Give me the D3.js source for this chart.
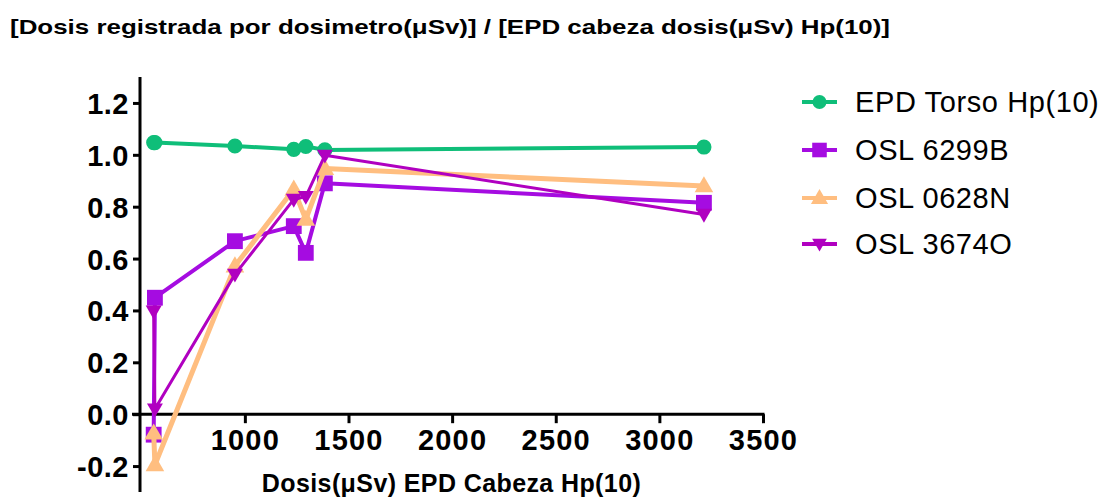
<!DOCTYPE html>
<html><head><meta charset="utf-8">
<script src="https://cdn.jsdelivr.net/npm/d3@7"></script>
<style>
html,body{margin:0;padding:0;background:#fff;}
text{font-family:"Liberation Sans",Arial,sans-serif;}
</style></head>
<body>
<svg id="chart" width="1104" height="498"></svg>
<script>
const titleText = "[Dosis registrada por dosimetro(\u03bcSv)] / [EPD cabeza dosis(\u03bcSv) Hp(10)]";
const xTitle = "Dosis(\u03bcSv) EPD Cabeza Hp(10)";
const doses = [560, 566, 952, 1236, 1294, 1386, 3215];
const seriesNames = ["EPD Torso Hp(10)", "OSL 6299B", "OSL 0628N", "OSL 3674O"];
const torso = [1.047, 1.047, 1.034, 1.021, 1.032, 1.019, 1.030];
const osl6299B = [-0.079, 0.449, 0.667, 0.725, 0.622, 0.890, 0.815];
const osl0628N = [-0.073, -0.195, 0.571, 0.867, 0.751, 0.947, 0.880];
const osl3674O = [0.397, 0.020, 0.539, 0.828, 0.839, 0.998, 0.770];
const xTicks = [1000, 1500, 2000, 2500, 3000, 3500];
const xTickLabels = ["1000", "1500", "2000", "2500", "3000", "3500"];
const yTicks = [-0.2, 0.0, 0.2, 0.4, 0.6, 0.8, 1.0, 1.2];
const yTickLabels = ["-0.2", "0.0", "0.2", "0.4", "0.6", "0.8", "1.0", "1.2"];

const svg = d3.select("#chart");
const x = d3.scaleLinear().domain([494, 3500]).range([140, 763]);
const y = d3.scaleLinear().domain([-0.3, 1.3]).range([492, 77]);

const styles = [
  {color: "#0FBE79", width: 4, symbol: d3.symbolCircle, size: 180, rot: 0},
  {color: "#A50CE1", width: 4, symbol: d3.symbolSquare, size: 250, rot: 0},
  {color: "#FFBE80", width: 5, symbol: d3.symbolTriangle, size: 150, rot: 0},
  {color: "#B000C0", width: 3, symbol: d3.symbolTriangle, size: 110, rot: 180}
];
const allSeries = [torso, osl6299B, osl0628N, osl3674O];

// title
svg.append("text").attr("x", 10).attr("y", 34)
  .attr("font-size", 21).attr("font-weight", "bold")
  .attr("textLength", 880).attr("lengthAdjust", "spacingAndGlyphs")
  .text(titleText);

// axes
const yAxis = d3.axisLeft(y).tickValues(yTicks).tickSize(7).tickSizeOuter(0)
  .tickFormat((d, i) => yTickLabels[i]).tickPadding(4);
const gy = svg.append("g").attr("transform", `translate(${x.range()[0]},0)`).call(yAxis);
gy.select(".domain").remove();
gy.selectAll(".tick line").attr("stroke", "#000").attr("stroke-width", 3);
gy.selectAll(".tick text").attr("font-size", 29).attr("font-weight", "bold").attr("fill", "#000")
  .attr("letter-spacing", 0.5).attr("dy", "0.36em");
svg.append("line").attr("x1", x.range()[0]).attr("x2", x.range()[0])
  .attr("y1", y.range()[1]).attr("y2", y.range()[0])
  .attr("stroke", "#000").attr("stroke-width", 3);

const xAxis = d3.axisBottom(x).tickValues(xTicks).tickSize(9).tickSizeOuter(0)
  .tickFormat((d, i) => xTickLabels[i]).tickPadding(6);
const gx = svg.append("g").attr("transform", `translate(0,${y(0)})`).call(xAxis);
gx.select(".domain").remove();
gx.selectAll(".tick line").attr("stroke", "#000").attr("stroke-width", 3);
gx.selectAll(".tick text").attr("font-size", 29).attr("font-weight", "bold").attr("fill", "#000")
  .attr("letter-spacing", 1.2);
svg.append("line").attr("x1", x.range()[0] - 8).attr("x2", x.range()[1] + 1.5)
  .attr("y1", y(0)).attr("y2", y(0))
  .attr("stroke", "#000").attr("stroke-width", 3);

svg.append("text").attr("x", (x.range()[0] + x.range()[1]) / 2).attr("y", 491.5)
  .attr("text-anchor", "middle").attr("font-size", 25).attr("font-weight", "bold")
  .attr("letter-spacing", 0.4)
  .text(xTitle);

// series
const line = d3.line().x((d) => x(d[0])).y((d) => y(d[1]));
allSeries.forEach((vals, si) => {
  const st = styles[si];
  const pts = doses.map((d, i) => [d, vals[i]]);
  const g = svg.append("g");
  g.append("path").datum(pts).attr("d", line).attr("fill", "none")
    .attr("stroke", st.color).attr("stroke-width", st.width).attr("stroke-linejoin", "round");
  g.selectAll("path.m").data(pts).enter().append("path").attr("class", "m")
    .attr("d", d3.symbol().type(st.symbol).size(st.size))
    .attr("transform", (d) => `translate(${x(d[0])},${y(d[1]) + (st.symbol === d3.symbolTriangle ? (st.rot ? -1 : 1) : 0)}) rotate(${st.rot})`)
    .attr("fill", st.color);
});

// legend
const legY = [102, 150, 198, 244];
seriesNames.forEach((name, si) => {
  const st = styles[si];
  const g = svg.append("g").attr("transform", `translate(0,${legY[si]})`);
  g.append("line").attr("x1", 802).attr("x2", 837).attr("y1", 0).attr("y2", 0)
    .attr("stroke", st.color).attr("stroke-width", 4);
  g.append("path").attr("d", d3.symbol().type(st.symbol).size(st.size * 0.85))
    .attr("transform", `translate(819.5,${st.symbol === d3.symbolTriangle ? (st.rot ? -1 : 1) : 0}) rotate(${st.rot})`)
    .attr("fill", st.color);
  g.append("text").attr("x", 855).attr("y", 0).attr("dy", "0.36em")
    .attr("font-size", 29).attr("letter-spacing", 0.6).attr("fill", "#000").text(name);
});
</script>
</body></html>
